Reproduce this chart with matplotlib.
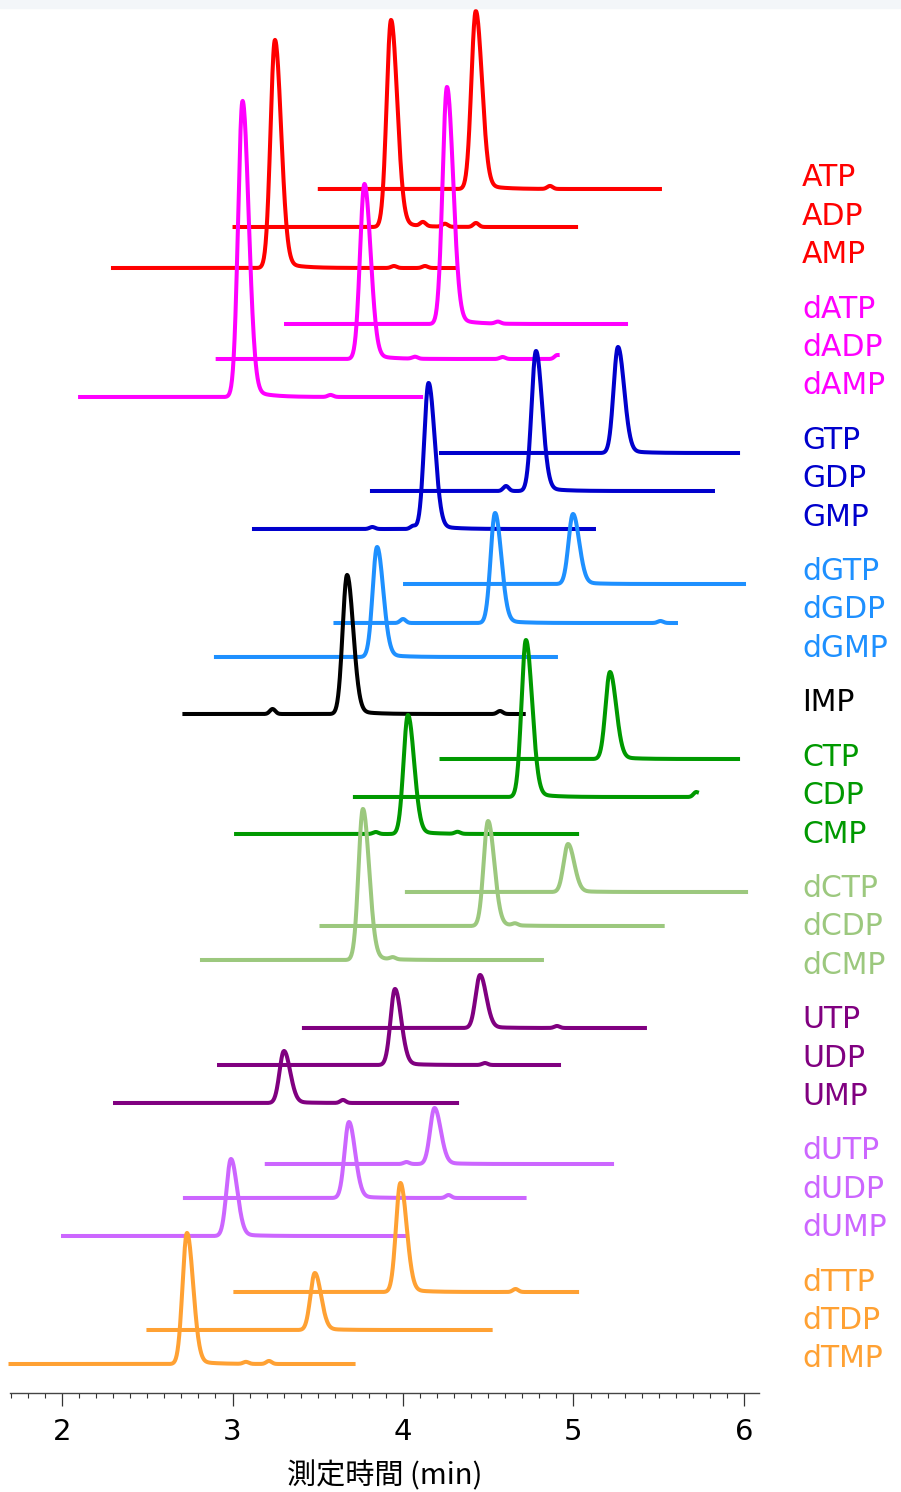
import numpy as np
import matplotlib.pyplot as plt
from matplotlib.patches import Rectangle
from matplotlib.ticker import MultipleLocator

# nucleotide traces, top to bottom
names = ['ATP', 'ADP', 'AMP', 'dATP', 'dADP', 'dAMP', 'GTP', 'GDP', 'GMP',
         'dGTP', 'dGDP', 'dGMP', 'IMP', 'CTP', 'CDP', 'CMP', 'dCTP', 'dCDP', 'dCMP',
         'UTP', 'UDP', 'UMP', 'dUTP', 'dUDP', 'dUMP', 'dTTP', 'dTDP', 'dTMP']
group = [0, 0, 0, 1, 1, 1, 2, 2, 2, 3, 3, 3, 4, 5, 5, 5, 6, 6, 6,
         7, 7, 7, 8, 8, 8, 9, 9, 9]
group_colors = ['#ff0000', '#ff00ff', '#0000cc', '#1e90ff', '#000000',
                '#009900', '#9cc87e', '#800080', '#cc66ff', '#ffa133']

# vertical offset of each baseline (signal units)
baseline = [1204, 1166, 1125, 1069, 1034, 996, 940, 902, 864, 809, 770, 736,
            679, 634, 596, 559, 501, 467, 433, 365, 328, 290, 229, 195, 157,
            101, 63, 29]
# time window of each trace (min)
t_start = [3.512, 3.012, 2.299, 3.314, 2.913, 2.106, 4.223, 3.818, 3.126,
           4.012, 3.604, 2.903, 2.718, 4.226, 3.718, 3.021, 4.023, 3.522, 2.821,
           3.419, 2.921, 2.311, 3.201, 2.721, 2.006, 3.017, 2.507, 1.698]
t_end = [5.507, 5.015, 4.308, 5.308, 4.907, 4.106, 5.965, 5.818, 5.120,
         6.000, 5.601, 4.897, 4.708, 5.965, 5.724, 5.021, 6.012, 5.523, 4.815,
         5.419, 4.915, 4.317, 5.226, 4.713, 4.018, 5.021, 4.514, 3.710]
# main peak retention time (min) and height
t_peak = [4.427, 3.930, 3.249, 4.258, 3.774, 3.059, 5.261, 4.780, 4.150,
          4.997, 4.540, 3.848, 3.672, 5.214, 4.721, 4.029, 4.968, 4.499, 3.765,
          4.452, 3.953, 3.302, 4.185, 3.683, 2.991, 3.985, 3.483, 2.733]
height = [178, 207, 228, 237, 175, 296, 106, 140, 146, 70, 110, 110, 139, 87,
          157, 119, 48, 105, 151, 53, 76, 52, 56, 76, 77, 109, 57, 131]
# small secondary peaks (time, height)
minor = [
    [(4.862, 3)],
    [(4.117, 4), (4.246, 3), (4.428, 4)],
    [(3.947, 2), (4.129, 2)],
    [(4.557, 2)],
    [(4.070, 2), (4.584, 2), (4.905, 4)],
    [(3.575, 2)],
    [],
    [(4.604, 5)],
    [(3.820, 2), (4.059, 3)],
    [],
    [(4.000, 4), (5.510, 2)],
    [],
    [(3.235, 5), (4.569, 3)],
    [],
    [(5.720, 5)],
    [(3.840, 2), (4.320, 2)],
    [],
    [(4.657, 2)],
    [(3.940, 2)],
    [(4.903, 2)],
    [(4.480, 2)],
    [(3.648, 3)],
    [(4.020, 2)],
    [(4.267, 3)],
    [],
    [(4.660, 3)],
    [],
    [(3.079, 2), (3.214, 3)],
]


def trace(t, t0, h, extra):
    s = np.where(t < t0, 0.026, 0.036)
    y = h * np.exp(-0.5 * ((t - t0) / s) ** 2)
    # slight tailing after the peak
    y += 0.035 * h / (1 + np.exp(-(t - t0 - 0.05) / 0.012)) * np.exp(-np.clip(t - t0, 0, None) / 0.1)
    for tm, hm in extra:
        y += hm * np.exp(-0.5 * ((t - tm) / 0.016) ** 2)
    return y


fig = plt.figure(figsize=(9.01, 14.92), dpi=100)
fig.patches.append(Rectangle((0, 1 - 8 / 1492), 1, 8 / 1492, transform=fig.transFigure,
                             color='#f3f6f9', zorder=0))
ax = fig.add_axes([10 / 901, 99 / 1492, 749 / 901, 1385 / 1492])

for i in range(len(names)):
    t = np.linspace(t_start[i], t_end[i], 800)
    y = baseline[i] + trace(t, t_peak[i], height[i], minor[i])
    ax.plot(t, y, color=group_colors[group[i]], lw=2.9, clip_on=False,
            solid_joinstyle='round')

ax.set_xlim(1.695, 6.088)
ax.set_ylim(0, 1385)
ax.set_yticks([])
for side in ['left', 'right', 'top']:
    ax.spines[side].set_visible(False)
ax.spines['bottom'].set_color('#444444')
ax.spines['bottom'].set_linewidth(1.0)
ax.xaxis.set_major_locator(MultipleLocator(1))
ax.xaxis.set_minor_locator(MultipleLocator(0.1))
ax.tick_params(axis='x', which='major', length=9, width=0.9, color='#333333',
               labelsize=21, pad=9)
ax.tick_params(axis='x', which='minor', length=3.5, width=0.8, color='#333333')
ax.set_xlabel('測定時間 (min)', fontsize=21, labelpad=11,
              family=['Noto Sans CJK JP', 'DejaVu Sans'])

# legend labels on the right
ypix = 178
prev = group[0]
for i in range(len(names)):
    if group[i] != prev:
        ypix += 54.6
        prev = group[i]
    elif i > 0:
        ypix += 38.3
    fig.text(802 / 901, 1 - ypix / 1492, names[i], color=group_colors[group[i]],
             fontsize=21.5, va='center', ha='left')

fig.savefig('out.png', dpi=100)
